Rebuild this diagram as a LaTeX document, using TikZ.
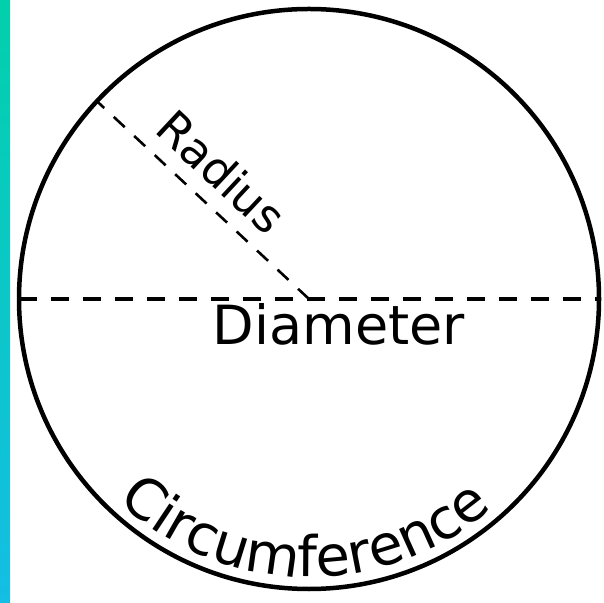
\documentclass[tikz,border=0pt]{standalone}
\usepackage{fontspec}
\newfontfamily\lettering{DejaVu Sans}
\usetikzlibrary{calc,decorations.text}
\definecolor{striptop}{RGB}{2,208,172}
\definecolor{stripbot}{RGB}{20,190,228}
\tikzset{
  rim/.style={circle,draw,line width=4.5pt,minimum size=580pt,inner sep=0pt,outer sep=0pt},
  diamline/.style={line width=3.8pt,dash pattern=on 18pt off 14pt},
  radline/.style={line width=2.6pt,dash pattern=on 15pt off 13pt},
  lbl/.style={font=\lettering,inner sep=0pt}
}
\begin{document}
\begin{tikzpicture}[x=1pt,y=1pt]
\useasboundingbox (0,0) rectangle (604,602);
\shade[top color=striptop,bottom color=stripbot] (0,0) rectangle (10,602);
\node[rim] (c) at (309,303) {};
\draw[diamline] (c.west) -- (c.east);
\coordinate (ctr) at (c.center);
\coordinate (rimpt) at (c.137);
\draw[radline] (ctr) -- (rimpt);
\node[lbl,anchor=base,font=\lettering\fontsize{54}{54}\selectfont] (diam) at (339,257) {Diameter};
\node[lbl,rotate=-43,font=\lettering\fontsize{46}{46}\selectfont] (rad) at (222,430) {Radius};
\path[decorate,decoration={text along path,text align=center,
  text={|\lettering\fontsize{56}{56}\selectfont|Circumference}}]
  ($(ctr)+(228:278)$) arc[start angle=228,end angle=310,radius=278];
\end{tikzpicture}
\end{document}
